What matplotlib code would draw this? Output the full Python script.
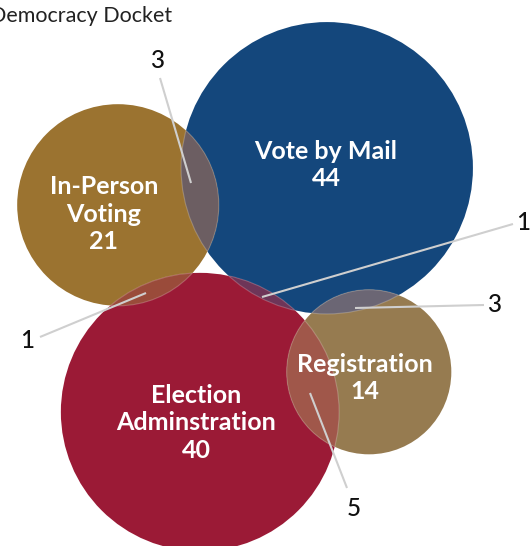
import numpy as np
import matplotlib.pyplot as plt
from matplotlib.patches import Circle

# ---- data ----
categories = ["Vote by Mail", "In-Person\nVoting", "Election\nAdminstration", "Registration"]
counts = [44, 21, 40, 14]
# shared cases between two categories (index pairs into categories)
overlap_pairs = [(0, 1), (0, 2), (0, 3), (1, 2), (2, 3)]
overlap_counts = [3, 1, 3, 1, 5]
source = "Democracy Docket"

# ---- layout / style ----
W, H = 531, 546
SCALE = 22.0  # pixels per sqrt(case)
centers = [(327, 168), (118, 205), (200, 412), (369, 372)]
colors = ["#14477C", "#9B7330", "#9B1A36", "#967B50"]
overlap_colors = {(0, 1): "#6C5E62", (0, 2): "#6E3558", (0, 3): "#6B6674",
                  (1, 2): "#9A4B3A", (2, 3): "#A0574A"}
label_pos = [(326, 165), (104, 214), (196, 423), (365, 378)]
# (anchor point inside overlap, text position, line end near text)
leaders = {(0, 1): ((191, 183), (157, 60), (160, 78)),
           (0, 2): ((262, 297), (523, 222), (513, 224)),
           (0, 3): ((355, 308), (494, 305), (484, 305)),
           (1, 2): ((146, 293), (27, 340), (40, 337)),
           (2, 3): ((310, 393), (354, 508), (347, 488))}

fig = plt.figure(figsize=(W / 100, H / 100), dpi=100)
ax = fig.add_axes([0, 0, 1, 1])
ax.set_xlim(0, W)
ax.set_ylim(H, 0)
ax.axis("off")

radii = [SCALE * np.sqrt(c) for c in counts]

for (cx, cy), r, col in zip(centers, radii, colors):
    ax.add_patch(Circle((cx, cy), r, facecolor=col, edgecolor="none", zorder=1))

# overlap lenses: draw circle j clipped to circle i
edge = (1, 1, 1, 0.22)
for (i, j) in overlap_pairs:
    lens = Circle(centers[j], radii[j], facecolor=overlap_colors[(i, j)],
                  edgecolor=edge, lw=0.8, zorder=2)
    ax.add_patch(lens)
    lens.set_clip_path(Circle(centers[i], radii[i], transform=ax.transData))
    rim = Circle(centers[i], radii[i], facecolor="none",
                 edgecolor=edge, lw=0.8, zorder=2)
    ax.add_patch(rim)
    rim.set_clip_path(Circle(centers[j], radii[j], transform=ax.transData))

for name, n, (x, y) in zip(categories, counts, label_pos):
    ax.text(x, y, f"{name}\n{n}", color="white", fontsize=18, fontweight="bold",
            family="Lato", ha="center", va="center", linespacing=1.25, zorder=5)

for pair, n in zip(overlap_pairs, overlap_counts):
    (ax_, ay), (tx, ty), (lx, ly) = leaders[pair]
    ax.plot([ax_, lx], [ay, ly], color="#CFCFCF", lw=1.5, zorder=4,
            solid_capstyle="butt")
    ax.text(tx, ty, str(n), color="#111111", fontsize=17.5, family="Lato",
            fontweight="medium", ha="center", va="center", zorder=5)

ax.text(172, 16, source, color="#222222", fontsize=15.5, family="Lato",
        ha="right", va="center")

fig.savefig("out.png", dpi=100)
